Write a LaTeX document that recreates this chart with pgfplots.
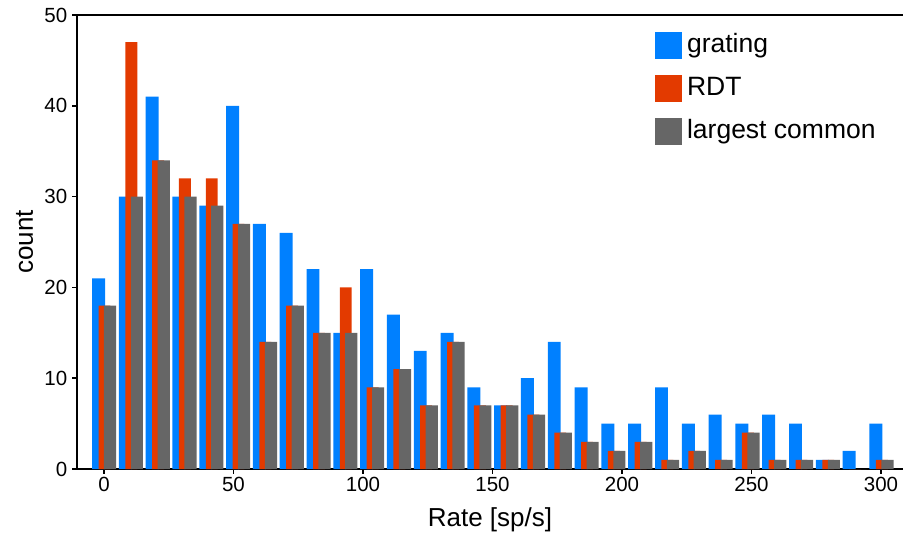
\documentclass[border=0pt]{standalone}
\usepackage{fontspec}
\setmainfont{Liberation Sans}
\usepackage{pgfplots}
\usepackage{pgfplotstable}
\pgfplotsset{compat=1.18}
\definecolor{cblue}{RGB}{0,128,255}
\definecolor{cred}{RGB}{227,58,0}
\definecolor{cgray}{RGB}{102,102,102}
\pgfplotsset{sqlegend/.style={legend image code/.code={\fill[##1,draw=none] (0bp,-9bp) rectangle (27bp,18bp);}}}

\pgfplotstableread{
x      grating rdt common
0      21 18 18
10.35  30 47 30
20.7   41 34 34
31.05  30 32 30
41.4   29 32 29
51.75  40 27 27
62.1   27 14 14
72.45  26 18 18
82.8   22 15 15
93.15  15 20 15
103.5  22 9  9
113.85 17 11 11
124.2  13 7  7
134.55 15 14 14
144.9  9  7  7
155.25 7  7  7
165.6  10 6  6
175.95 14 4  4
186.3  9  3  3
196.65 5  2  2
207    5  3  3
217.35 9  1  1
227.7  5  2  2
238.05 6  1  1
248.4  5  4  4
258.75 6  1  1
269.1  5  1  1
279.45 1  1  1
289.8  2  0  0
300.15 5  1  1
}\data

\begin{document}
\begin{tikzpicture}
\useasboundingbox (-77bp,-67bp) rectangle (826bp,469bp);
\begin{axis}[
  at={(0,0)}, anchor=south west,
  scale only axis, width=826bp, height=454bp,
  xmin=-10.42, xmax=308.5, ymin=0, ymax=50,
  axis x line*=box, axis y line*=left,
  axis line style={line width=1.6bp, black},
  tick pos=left, tick align=outside,
  major tick length=4.5bp,
  every tick/.style={line width=1.6bp, black},
  xtick={0,50,...,300}, ytick={0,10,...,50},
  /pgf/number format/assume math mode=true,
  tick label style={font=\fontsize{20.5bp}{24bp}\selectfont},
  yticklabel style={inner xsep=5bp},
  label style={font=\fontsize{26bp}{30bp}\selectfont},
  xlabel={Rate [sp/s]}, ylabel={count},
  xlabel style={at={(axis description cs:0.5,-0.1271)}, anchor=base},
  ylabel style={at={(axis description cs:-0.0533,0.5)}, anchor=base},
  legend style={at={(axis cs:212.7,48.2)}, anchor=north west, draw=none, fill=none,
    inner sep=0pt, row sep=16bp, font=\fontsize{26.5bp}{30bp}\selectfont,
    nodes={inner xsep=5bp, inner ysep=2bp, text height=0.72em, text depth=0.15em}},
  legend cell align=left,
]
\addplot[ybar, bar width=5, bar shift=-2.1, fill=cblue, draw=none, sqlegend] table[x=x,y=grating]{\data};
\addplot[ybar, bar width=4.6, bar shift=0.2, fill=cred, draw=none, sqlegend] table[x=x,y=rdt]{\data};
\addplot[ybar, bar width=4.7, bar shift=2.35, fill=cgray, draw=none, sqlegend] table[x=x,y=common]{\data};
\legend{grating, RDT, largest common}
\end{axis}
\end{tikzpicture}
\end{document}
